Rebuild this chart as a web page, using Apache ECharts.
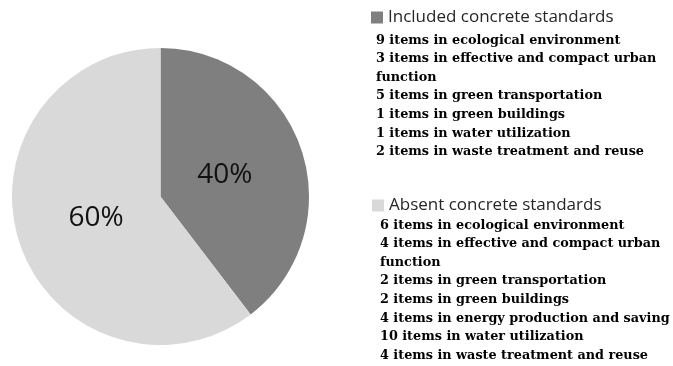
<!DOCTYPE html>
<html>
<head>
<meta charset="utf-8">
<script src="https://cdn.jsdelivr.net/npm/echarts@6/dist/echarts.min.js"></script>
<style>html,body{margin:0;padding:0;background:#fff;}#c{width:673px;height:366px;}</style>
</head>
<body>
<div id="c"></div>
<script>
var categories = ['Included concrete standards', 'Absent concrete standards'];
var sliceValues = [21, 32];
var includedItems = [
  '9 items in ecological environment',
  '3 items in effective and compact urban\nfunction',
  '5 items in green transportation',
  '1 items in green buildings',
  '1 items in water utilization',
  '2 items in waste treatment and reuse'
];
var absentItems = [
  '6 items in ecological environment',
  '4 items in effective and compact urban\nfunction',
  '2 items in green transportation',
  '2 items in green buildings',
  '4 items in energy production and saving',
  '10 items in water utilization',
  '4 items in waste treatment and reuse'
];
var colors = ['#7f7f7f', '#d9d9d9'];

var chart = echarts.init(document.getElementById('c'), null, {renderer: 'canvas'});
var listStyle = {fontFamily: 'DejaVu Serif', fontWeight: 'bold', fontSize: 12.8, lineHeight: 18.6, color: '#000'};
var legendText = {fontFamily: 'Open Sans', fontSize: 17, color: '#262626'};
var pieData = categories.map(function (n, i) { return {name: n, value: sliceValues[i]}; });
chart.setOption({
  animation: false,
  backgroundColor: '#fff',
  color: colors,
  title: [
    {text: includedItems.join('\n'), left: 376, top: 31, padding: 0, textStyle: listStyle},
    {text: absentItems.join('\n'), left: 380, top: 216, padding: 0, textStyle: listStyle}
  ],
  legend: [
    {data: [categories[0]], left: 371, top: 9, padding: 0, icon: 'rect', itemWidth: 12, itemHeight: 12, itemGap: 0, textStyle: legendText, selectedMode: false},
    {data: [categories[1]], left: 372, top: 197, padding: 0, icon: 'rect', itemWidth: 12, itemHeight: 12, itemGap: 0, textStyle: legendText, selectedMode: false}
  ],
  series: [{
    type: 'pie',
    center: [160.5, 196.5],
    radius: [0, 148.5],
    startAngle: 90,
    clockwise: true,
    label: {show: false},
    labelLine: {show: false},
    itemStyle: {borderWidth: 0},
    emphasis: {disabled: true},
    data: pieData
  }, {
    type: 'pie',
    center: [160.5, 196.5],
    radius: [0, 130],
    startAngle: 90,
    clockwise: true,
    silent: true,
    avoidLabelOverlap: false,
    percentPrecision: 0,
    label: {position: 'inside', formatter: '{d}%', fontFamily: 'Open Sans', fontSize: 28, color: '#111'},
    labelLine: {show: false},
    itemStyle: {color: 'rgba(0,0,0,0)', borderWidth: 0},
    emphasis: {disabled: true},
    legendHoverLink: false,
    data: pieData
  }]
});
</script>
</body>
</html>
